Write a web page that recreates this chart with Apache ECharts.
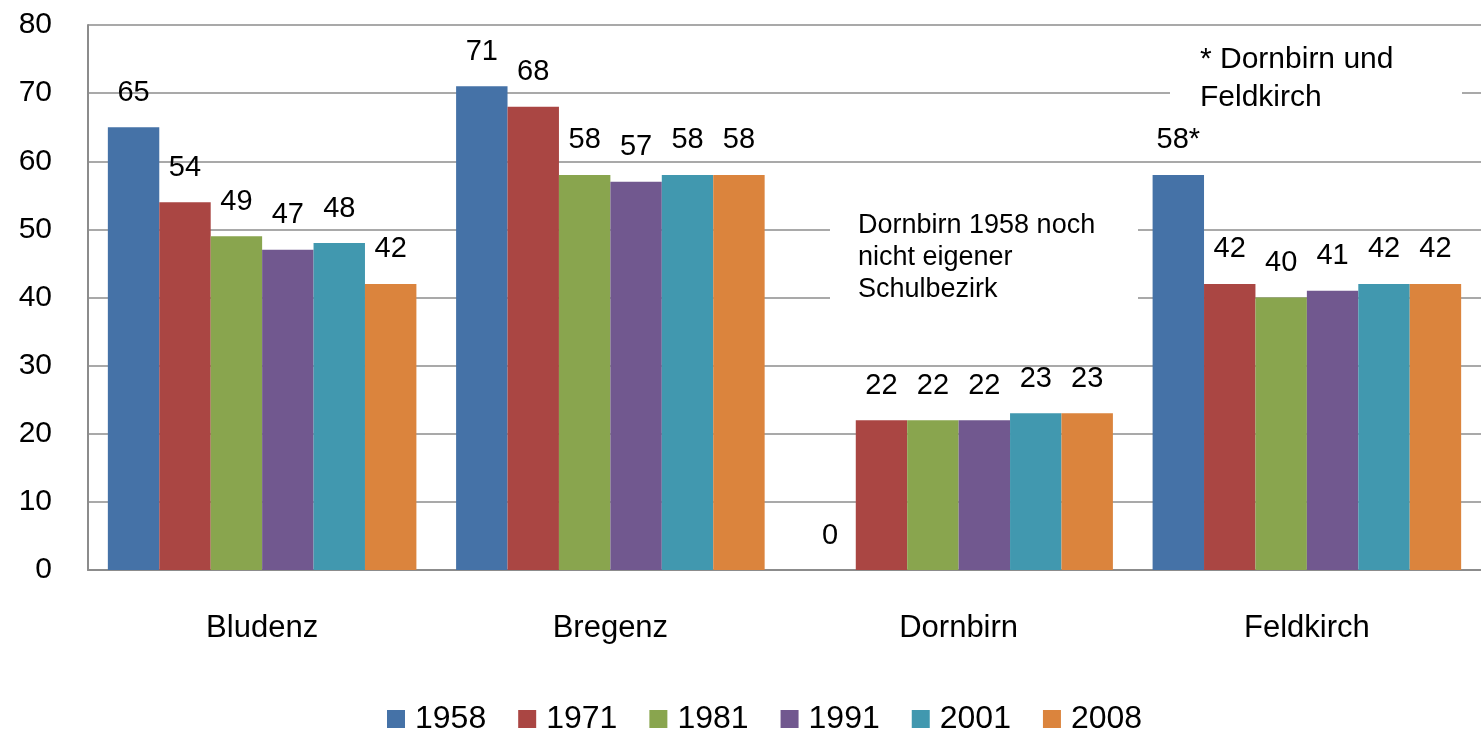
<!DOCTYPE html>
<html><head><meta charset="utf-8">
<script src="https://cdn.jsdelivr.net/npm/echarts@6/dist/echarts.min.js"></script>
<style>html,body{margin:0;padding:0;background:#fff}#c{width:1481px;height:732px}</style>
</head><body><div id="c"></div>
<script>
const categories = ['Bludenz', 'Bregenz', 'Dornbirn', 'Feldkirch'];
const years = ['1958', '1971', '1981', '1991', '2001', '2008'];
const v1958 = [65, 71, 0, 58];
const v1971 = [54, 68, 22, 42];
const v1981 = [49, 58, 22, 40];
const v1991 = [47, 57, 22, 41];
const v2001 = [48, 58, 23, 42];
const v2008 = [42, 58, 23, 42];
const labelSuffix1958 = ['', '', '', '*'];
const yTicks = [0, 10, 20, 30, 40, 50, 60, 70, 80];
const noteDornbirn = 'Dornbirn 1958 noch\nnicht eigener\nSchulbezirk';
const noteStar = '* Dornbirn und\nFeldkirch';

const colors = ['#4572A7', '#AA4643', '#89A54E', '#71588F', '#4198AF', '#DB843D'];
const seriesValues = [v1958, v1971, v1981, v1991, v2001, v2008];
const font = 'Liberation Sans, Arial, sans-serif';

const chart = echarts.init(document.getElementById('c'), null, {renderer: 'canvas'});
chart.setOption({
  animation: false,
  color: colors,
  textStyle: {fontFamily: font},
  grid: {left: 88, top: 25, width: 1404, height: 545, containLabel: false},
  xAxis: {
    type: 'category', data: categories,
    axisLine: {lineStyle: {color: '#8c8c8c', width: 2}},
    axisTick: {show: false},
    axisLabel: {color: '#000', fontSize: 31, margin: 43, fontFamily: font}
  },
  yAxis: {
    type: 'value', min: yTicks[0], max: yTicks[yTicks.length - 1], interval: 10,
    axisLine: {show: true, lineStyle: {color: '#8c8c8c', width: 2}},
    axisTick: {show: false},
    splitLine: {lineStyle: {color: '#8c8c8c', width: 1.5}},
    axisLabel: {color: '#000', fontSize: 30, margin: 36, fontFamily: font}
  },
  legend: {
    top: 698, left: 382, itemWidth: 18, itemHeight: 18, itemGap: 32,
    icon: 'rect',
    textStyle: {fontSize: 32, color: '#000', fontFamily: font, padding: [0, 0, 0, 5]},
    data: years
  },
  series: years.map((y, i) => ({
    name: y, type: 'bar', data: seriesValues[i],
    barGap: '0%', barCategoryGap: '11.4%',
    itemStyle: {color: colors[i]},
    label: {
      show: true, position: 'top', distance: 20, color: '#000', fontSize: 29, fontFamily: font,
      formatter: p => p.value + (i === 0 ? labelSuffix1958[p.dataIndex] : '')
    }
  })),
  graphic: [
    {type: 'rect', left: 830, top: 205, shape: {width: 308, height: 105}, style: {fill: '#fff'}, z: 50},
    {type: 'text', left: 858, top: 210, z: 51,
     style: {text: noteDornbirn, font: '27px ' + font, fill: '#000', lineHeight: 32}},
    {type: 'rect', left: 1170, top: 35, shape: {width: 292, height: 80}, style: {fill: '#fff'}, z: 50},
    {type: 'text', left: 1200, top: 41, z: 51,
     style: {text: noteStar, font: '30px ' + font, fill: '#000', lineHeight: 38}}
  ]
});
</script></body></html>
